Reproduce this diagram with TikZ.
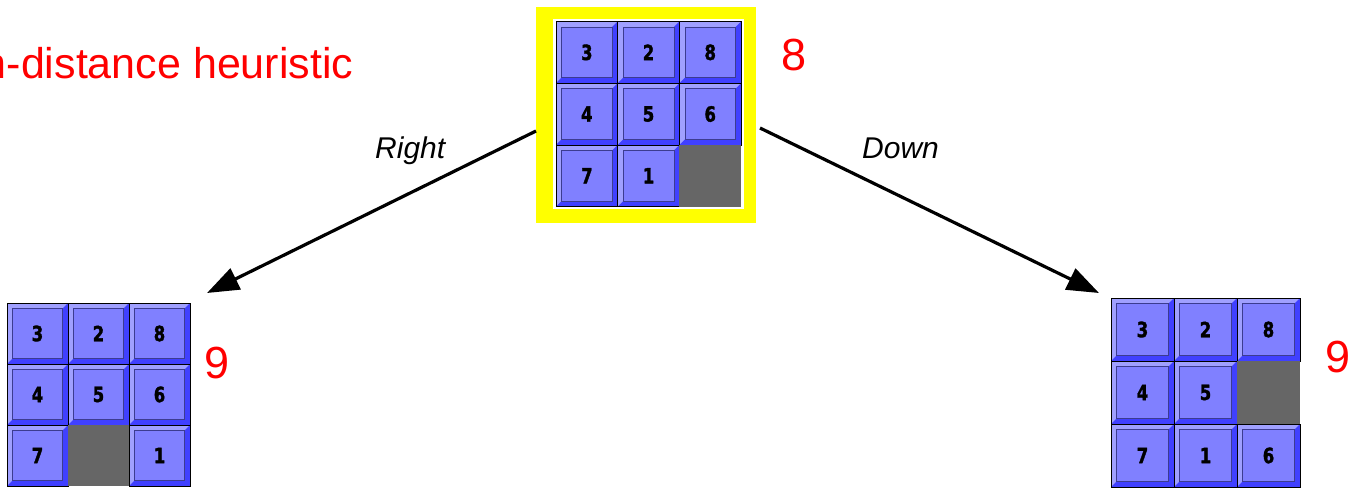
\documentclass[tikz,border=0pt]{standalone}
\usepackage{fontspec}
\setmainfont{Liberation Sans}
\newfontfamily\tilefont{DejaVu Sans}[FakeStretch=0.78, BoldFeatures={FakeBold=1.6}]
\usetikzlibrary{arrows.meta}

\definecolor{frameyellow}{HTML}{FFFF00}
\definecolor{tileface}{HTML}{8080FF}
\definecolor{tilelight}{HTML}{A0A0FF}
\definecolor{tiledark}{HTML}{4040FF}
\definecolor{tileline}{HTML}{3C3C90}
\definecolor{blankcell}{HTML}{666666}
\definecolor{costred}{HTML}{FF0000}

\tikzset{
  tilenum/.style={inner sep=0pt, text=black, font=\tilefont\bfseries\fontsize{21}{21}\selectfont},
  boardbox/.style={inner sep=0pt, outer sep=0pt},
  costlabel/.style={anchor=base, text=costred, inner sep=0pt, font=\fontsize{45}{50}\selectfont},
  movelabel/.style={anchor=base west, inner sep=0pt, font=\itshape\fontsize{30}{34}\selectfont},
  movearrow/.style={line width=3.2pt, -{Triangle[length=32pt,width=23pt]}},
}

% One sliding tile with a bevelled edge: left, top, size, label, node name
\newcommand\slidetile[5]{%
  \pgfmathsetmacro\bv{0.09*#3}%
  \fill[tilelight] (#1,#2) rectangle ++(#3,#3);
  \fill[tiledark] (#1+#3,#2) -- ++(0,#3) -- ++(-#3,0)
     -- ++(\bv,-\bv) -- ++(#3-2*\bv,0) -- ++(0,-#3+2*\bv) -- cycle;
  \filldraw[fill=tileface, draw=tileline, line width=0.7pt]
     (#1+\bv,#2+\bv) rectangle (#1+#3-\bv,#2+#3-\bv);
  \draw[black, line width=0.8pt] (#1,#2) rectangle ++(#3,#3);
  \node[tilenum] (#5) at (#1+#3/2,#2+#3/2) {#4};
}

% A 3x3 board: name, left, top, cell size, entries (0 = empty cell)
\newcommand\puzzleboard[5]{%
  \foreach \v [count=\k from 0] in {#5}{%
    \pgfmathtruncatemacro\cc{mod(\k,3)}%
    \pgfmathtruncatemacro\rr{int(\k/3)}%
    \pgfmathsetmacro\px{#2+\cc*#4}%
    \pgfmathsetmacro\py{#3+\rr*#4}%
    \ifnum\v=0
      \fill[blankcell] (\px,\py) rectangle ++(#4,#4);
    \else
      \slidetile{\px}{\py}{#4}{\v}{#1-\k}
    \fi
  }%
  \node[boardbox, minimum width=3*#4pt, minimum height=3*#4pt]
    (#1) at (#2+1.5*#4,#3+1.5*#4) {};
}

\begin{document}
\begin{tikzpicture}[x=1pt,y=-1pt]
  \useasboundingbox (0,0) rectangle (1352,490);

  % highlighted start state
  \node[boardbox, fill=frameyellow, minimum width=220pt, minimum height=216pt]
    (root) at (646,115) {};
  \fill[white] (553,19) rectangle (744,209);
  \puzzleboard{start}{556}{21.5}{61.7}{3,2,8,4,5,6,7,1,0}

  % successor states
  \puzzleboard{leftb}{7}{303}{61}{3,2,8,4,5,6,7,0,1}
  \puzzleboard{rightb}{1111}{298}{63}{3,2,8,4,5,0,7,1,6}

  % heuristic values
  \node[costlabel] (hroot) at (794.5,70) {8};
  \node[costlabel] (hleft) at (217.5,378) {9};
  \node[costlabel] (hright) at (1337.5,372) {9};

  % title
  \node[anchor=base east, inner sep=0pt, text=costred,
        font=\fontsize{43}{48}\selectfont] (title) at (353.5,78) {n-distance heuristic};

  % moves
  \draw[movearrow] ([yshift=-16pt]root.west) -- ([xshift=17pt,yshift=10pt]leftb.north east);
  \draw[movearrow] ([xshift=4pt,yshift=-13pt]root.east) -- ([xshift=-12pt,yshift=5pt]rightb.north west);
  \node[movelabel] (mright) at (375,158) {Right};
  \node[movelabel] (mdown) at (862,158) {Down};
\end{tikzpicture}
\end{document}
